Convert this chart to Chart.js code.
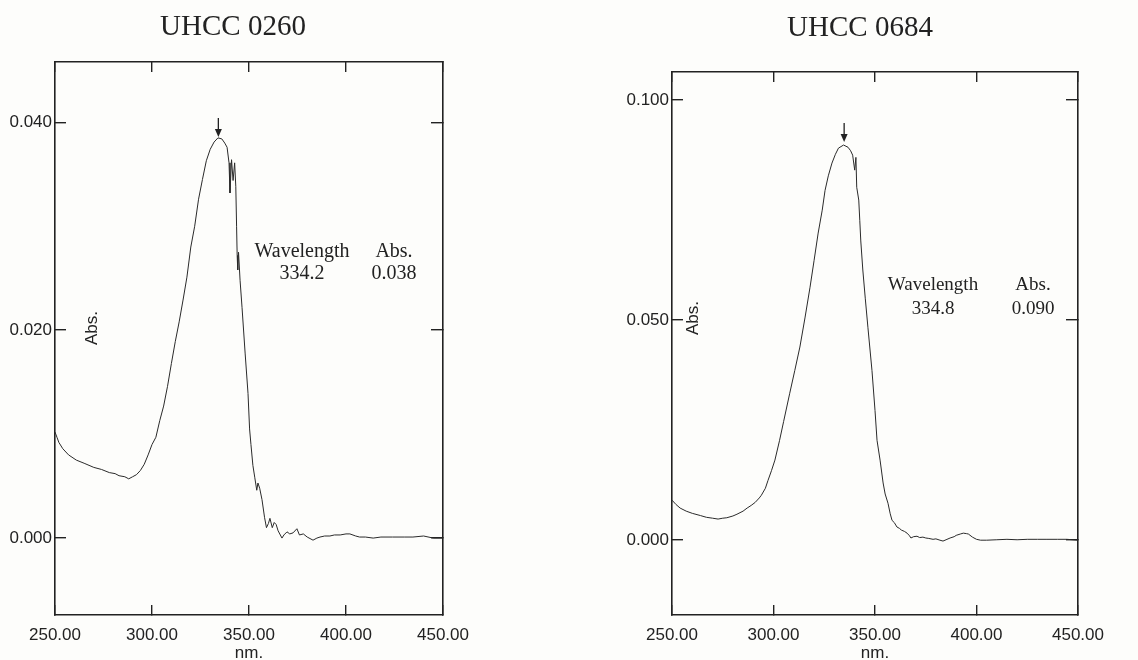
<!DOCTYPE html>
<html><head><meta charset="utf-8">
<script src="https://cdn.jsdelivr.net/npm/chart.js@4.4.1/dist/chart.umd.min.js"></script>
<style>
html,body{margin:0;padding:0;background:#fdfdfb;}
#wrap{position:relative;width:1138px;height:660px;overflow:hidden;background:#fdfdfb;}
canvas{position:absolute;top:0;}
</style></head><body>
<div id="wrap">
<canvas id="c1" width="569" height="660" style="left:0px"></canvas>
<canvas id="c2" width="569" height="660" style="left:569px"></canvas>
</div>
<script>
// ---------- DATA ----------
const titleA = "UHCC 0260";
const titleB = "UHCC 0684";
const xTickMin = 250, xTickMax = 450, xTickStep = 50;

const nmA = [250,251,252,254,257,261,265,270,274,278,281,283,286,288,290,292,294,296,298,300,302,304,306,308,310,312,314,316,318,320,322,324,326,328,330,332,334,336,337.5,338.7,339.7,340.2,341,341.8,342.6,343.2,343.6,343.9,344.2,344.6,345.4,346.4,348,349.5,350.3,351,352,353,354,354.6,355.5,356.7,358,359,360,360.8,362,363,364,365,367,368,369.6,371,372.7,374.7,376,378,380,383,385,386.6,389,391.7,394,397,400,402,405,407,410,414,418,424,430,434.5,440,445,450];
const absA = [0.0102,0.0097,0.0092,0.0086,0.0080,0.0075,0.0072,0.0068,0.0066,0.0063,0.0062,0.0060,0.0059,0.0057,0.0059,0.0061,0.0065,0.0071,0.0080,0.0090,0.0097,0.0113,0.0127,0.0146,0.0168,0.0189,0.0208,0.0229,0.0251,0.0280,0.0300,0.0326,0.0345,0.0363,0.0374,0.0381,0.0385,0.0384,0.0380,0.0376,0.0361,0.0332,0.0364,0.0344,0.0361,0.0338,0.0300,0.0272,0.0258,0.0275,0.0248,0.0222,0.0178,0.0139,0.0105,0.0090,0.0070,0.0058,0.0046,0.0053,0.0048,0.0037,0.0020,0.0010,0.0014,0.0019,0.0010,0.0015,0.0013,0.0007,0.0000,0.0003,0.0006,0.0004,0.0005,0.0009,0.0003,0.0004,0.0001,-0.0002,0.0000,0.0001,0.0002,0.0002,0.0003,0.0003,0.0004,0.0004,0.0002,0.0001,0.0001,0.0000,0.0001,0.0001,0.0001,0.0001,0.0002,0.0000,0.0000];

const nmB = [250,252,254,257,260,264,267,270,272.7,275,277,280,282,285,287,289,291,293,294,296,297.3,299,300.7,303,305,308,310.5,313,315.5,318,320,322,324,325.4,327,328.8,330.5,332,334.5,336.7,338,339,340,340.6,341,342,342.5,343,344,345.2,346.5,348.5,350,351,352.5,354,355,356.4,357.5,358.4,359.5,360.8,362,363,364.5,365.8,367,367.7,369,370.7,372,373.6,375,376.5,378.6,380,382,383.5,385,387,389,390,392,393.5,395,396,398,400,402,405,410,415,420,425,430,434.7,440,444.6,450];
const absB = [0.0091,0.0081,0.0073,0.0066,0.0061,0.0056,0.0052,0.0050,0.0048,0.0050,0.0051,0.0055,0.0059,0.0066,0.0073,0.0079,0.0086,0.0096,0.0102,0.0118,0.0136,0.0158,0.0182,0.0227,0.0270,0.0334,0.0386,0.0439,0.0505,0.0575,0.0636,0.0698,0.0750,0.0795,0.0828,0.0857,0.0877,0.0891,0.0898,0.0893,0.0885,0.0875,0.0841,0.0870,0.0802,0.0773,0.0727,0.0680,0.0614,0.0550,0.0484,0.0386,0.0295,0.0227,0.0182,0.0130,0.0105,0.0084,0.0060,0.0045,0.0040,0.0030,0.0027,0.0023,0.0020,0.0016,0.0010,0.0005,0.0008,0.0009,0.0006,0.0007,0.0005,0.0004,0.0002,0.0003,0.0000,-0.0002,0.0001,0.0005,0.0008,0.0011,0.0014,0.0016,0.0015,0.0014,0.0007,0.0002,0.0000,0.0000,0.0001,0.0002,0.0001,0.0002,0.0002,0.0002,0.0002,0.0002,0.0000];

const peakA = {nm: 334.2, abs: 0.038, top: 0.0385};
const peakB = {nm: 334.8, abs: 0.090, top: 0.0898};

const yRangeA = {min: -0.0074, max: 0.0458, step: 0.02};
const yRangeB = {min: -0.0170, max: 0.1064, step: 0.05};

// ---------- DRAWING ----------
const INK = '#222';
const SERIF = '"Liberation Serif", "Times New Roman", serif';
const SANS = '"Liberation Sans", Arial, sans-serif';

const decorPlugin = {
  id: 'decor',
  afterDraw(chart, args, o) {
    const ctx = chart.ctx;
    const xs = chart.scales.x, ys = chart.scales.y;
    ctx.save();
    ctx.fillStyle = INK;
    ctx.textAlign = 'center';
    ctx.textBaseline = 'middle';
    // title
    ctx.font = '29px ' + SERIF;
    ctx.fillText(o.title, o.titlePos[0], o.titlePos[1]);
    // readout
    ctx.font = o.readSize + 'px ' + SERIF;
    ctx.fillText('Wavelength', o.readPos[0], o.readPos[1]);
    ctx.fillText(o.peak.nm.toFixed(1), o.readPos[0], o.readPos[1] + o.readGap);
    ctx.fillText('Abs.', o.readPos[2], o.readPos[1]);
    ctx.fillText(o.peak.abs.toFixed(3), o.readPos[2], o.readPos[1] + o.readGap);
    // rotated axis label inside plot
    ctx.save();
    ctx.translate(o.absPos[0], o.absPos[1]);
    ctx.rotate(-Math.PI / 2);
    ctx.font = '17px ' + SANS;
    ctx.fillText('Abs.', 0, 0);
    ctx.restore();
    // peak arrow
    const px = xs.getPixelForValue(o.peak.nm);
    const tip = ys.getPixelForValue(o.peak.top) - o.arrowGap;
    ctx.strokeStyle = INK;
    ctx.lineWidth = 1.3;
    ctx.beginPath();
    ctx.moveTo(px, tip - 19);
    ctx.lineTo(px, tip - 6);
    ctx.stroke();
    ctx.beginPath();
    ctx.moveTo(px - 3.5, tip - 8);
    ctx.lineTo(px + 3.5, tip - 8);
    ctx.lineTo(px, tip);
    ctx.closePath();
    ctx.fill();
    ctx.restore();
  }
};

function makeChart(id, nm, abs, yr, lay, decor) {
  const pts = nm.map((v, i) => ({x: v, y: abs[i]}));
  const fixW = w => (s => { s.width = w; });
  const fixH = h => (s => { s.height = h; });
  const common = {
    border: {display: true, color: INK, width: 1.6},
    grid: {drawOnChartArea: false, drawTicks: true, color: INK, lineWidth: 1.4}
  };
  return new Chart(document.getElementById(id), {
    type: 'line',
    data: {datasets: [{data: pts, borderColor: '#2a2a2a', borderWidth: 1, pointRadius: 0, tension: 0, fill: false}]},
    options: {
      responsive: false, animation: false,
      layout: {padding: 0},
      plugins: {legend: {display: false}, tooltip: {enabled: false}, decor: decor},
      scales: {
        x: {type: 'linear', position: 'bottom', min: xTickMin, max: xTickMax,
            ...common, grid: {...common.grid, tickLength: -10},
            ticks: {stepSize: xTickStep, padding: 20, color: INK, font: {family: SANS, size: 17}, maxRotation: 0,
                    callback: v => Number(v).toFixed(2)},
            title: {display: true, text: 'nm.', color: INK, font: {family: SANS, size: 17, lineHeight: 0.8}, padding: 0},
            afterFit: fixH(lay.bottom)},
        x2: {type: 'linear', position: 'top', min: xTickMin, max: xTickMax,
             ...common, grid: {...common.grid, tickLength: -10},
             ticks: {stepSize: xTickStep, display: false}, afterFit: fixH(lay.top)},
        y: {type: 'linear', position: 'left', min: yr.min, max: yr.max,
            ...common, grid: {...common.grid, tickLength: -11},
            ticks: {stepSize: yr.step, includeBounds: false, padding: 14, color: INK, font: {family: SANS, size: 17},
                    callback: v => Number(v).toFixed(3)},
            afterFit: fixW(lay.left)},
        y2: {type: 'linear', position: 'right', min: yr.min, max: yr.max,
             ...common, grid: {...common.grid, tickLength: -12},
             ticks: {stepSize: yr.step, includeBounds: false, display: false}, afterFit: fixW(lay.right)}
      }
    },
    plugins: [decorPlugin]
  });
}

makeChart('c1', nmA, absA, yRangeA, {left: 55, right: 126, top: 62, bottom: 45},
  {title: titleA, titlePos: [233, 27], readSize: 20, readPos: [302, 252, 394], readGap: 22,
   absPos: [92, 328], peak: peakA, arrowGap: 1});
makeChart('c2', nmB, absB, yRangeB, {left: 103, right: 60, top: 72, bottom: 45},
  {title: titleB, titlePos: [291, 28], readSize: 19, readPos: [364, 285, 464], readGap: 24,
   absPos: [124, 318], peak: peakB, arrowGap: 3});
</script>
</body></html>
